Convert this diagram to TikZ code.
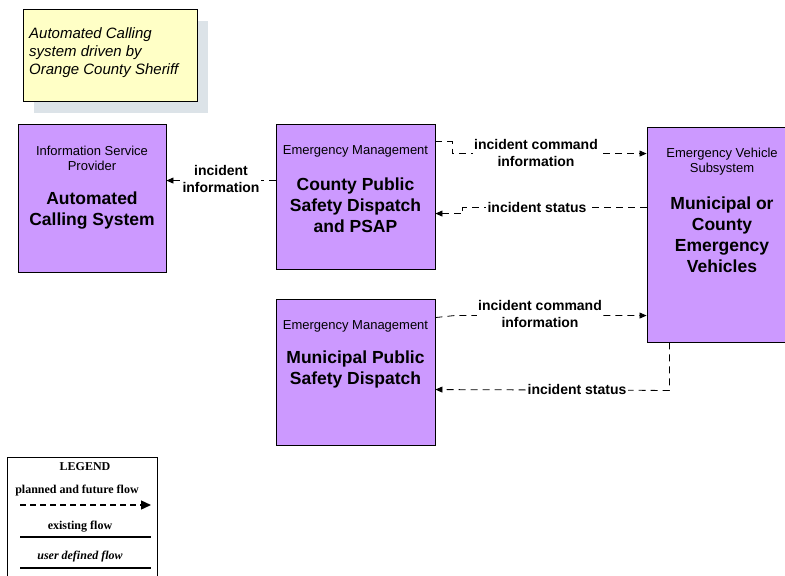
\documentclass[tikz,border=0pt]{standalone}
\usepackage{fontspec}
\setmainfont{Liberation Sans}
\newfontfamily\serifbf{Liberation Serif}
\usetikzlibrary{arrows.meta,calc}
\definecolor{boxpurple}{HTML}{CC99FF}
\definecolor{noteyellow}{HTML}{FFFFC6}
\definecolor{shadowc}{HTML}{DCE3E8}
\begin{document}
\begin{tikzpicture}[x=1pt,y=-1pt,
  box/.style={draw=black,line width=0.9pt,fill=boxpurple,inner sep=0pt},
  smalltxt/.style={font=\fontsize{13}{15}\selectfont,align=center,inner sep=0pt},
  bigtxt/.style={font=\fontsize{17.5}{21}\selectfont\bfseries,align=center,inner sep=0pt},
  lbl/.style={font=\fontsize{14}{17}\selectfont\bfseries,align=center,fill=white,inner sep=1.5pt},
  flow/.style={line width=0.8pt,dash pattern=on 7pt off 5pt,-{Triangle[length=7pt,width=6pt]}},
  legtxt/.style={font=\fontsize{12}{13}\selectfont\serifbf\bfseries,inner sep=0pt}]
\useasboundingbox (0,0) rectangle (785,576);
% note with shadow
\fill[shadowc] (34,21) rectangle (208,113);
\node[draw=black,line width=0.8pt,fill=noteyellow,minimum width=174pt,minimum height=92pt,inner sep=0pt] (note) at (110.5,55) {};
\node[font=\fontsize{15}{18}\selectfont\itshape,align=left,anchor=west,inner sep=0pt] (notetxt) at (29,53) {Automated Calling\\system driven by\\Orange County Sheriff};
% boxes
\node[box,minimum width=148pt,minimum height=148pt] (acs) at (92,198) {};
\node[smalltxt] (acsS) at (92,158.5) {Information Service\\Provider};
\node[bigtxt] (acsB) at (92,210.5) {Automated\\Calling System};
\node[box,minimum width=159pt,minimum height=145pt] (cty) at (355.5,196.5) {};
\node[smalltxt] (ctyS) at (355.5,151) {Emergency Management};
\node[bigtxt] (ctyB) at (355.5,205) {County Public\\Safety Dispatch\\and PSAP};
\node[box,minimum width=159pt,minimum height=146pt] (mun) at (355.5,372) {};
\node[smalltxt] (munS) at (355.5,326) {Emergency Management};
\node[bigtxt] (munB) at (355.5,369.5) {Municipal Public\\Safety Dispatch};
\node[box,minimum width=141pt,minimum height=215pt] (ev) at (717.5,234.5) {};
\node[smalltxt] (evS) at (722,161.5) {Emergency Vehicle\\Subsystem};
\node[bigtxt] (evB) at (722,235) {Municipal or\\County\\Emergency\\Vehicles};
% flows
\draw[flow] ($(cty.north west)+(0,57)$) -- ($(acs.north east)+(0,57)$);
\node[lbl] (l1) at (221,178.5) {incident\\information};
\draw[flow] ($(cty.north east)+(0,18)$) -- ++(17,0) -- ++(0,12) -- ($(ev.north west)+(0,27)$);
\node[lbl] (l2) at (536,152.5) {incident command\\information};
\draw[flow] ($(ev.north west)+(0,81)$) -- ++(-184,0) -- ++(0,6) -- ($(cty.north east)+(0,90)$);
\node[lbl] (l3) at (537,207) {incident status};
\draw[flow] ($(mun.north east)+(0,19)$) -- ++(19,-2) -- ($(ev.north west)+(0,189)$);
\node[lbl] (l4) at (540,314) {incident command\\information};
\draw[flow] ($(ev.south west)+(23,0)$) -- ++(0,48) -- ($(mun.north east)+(0,91)$);
\node[lbl] (l5) at (577,389) {incident status};
% legend
\node[draw=black,line width=0.8pt,minimum width=150pt,minimum height=125pt,inner sep=0pt,anchor=north west] (legend) at (7,457) {};
\node[legtxt] (legT) at (85,467) {LEGEND};
\node[legtxt] (leg1) at (77,491) {planned and future flow};
\coordinate (a1) at (20,505);
\coordinate (a2) at (151,505);
\draw[line width=1.4pt,dash pattern=on 6pt off 4pt,-{Triangle[length=10pt,width=9pt]}] (a1) -- (a2);
\node[legtxt] (leg2) at (80,527) {existing flow};
\coordinate (b1) at (20,537);
\coordinate (b2) at (151,537);
\draw[line width=1.2pt] (b1) -- (b2);
\node[legtxt,font=\fontsize{12}{13}\selectfont\serifbf\bfseries\itshape] (leg3) at (80,557) {user defined flow};
\coordinate (c1) at (20,568);
\coordinate (c2) at (151,568);
\draw[line width=1.2pt] (c1) -- (c2);
\end{tikzpicture}
\end{document}
